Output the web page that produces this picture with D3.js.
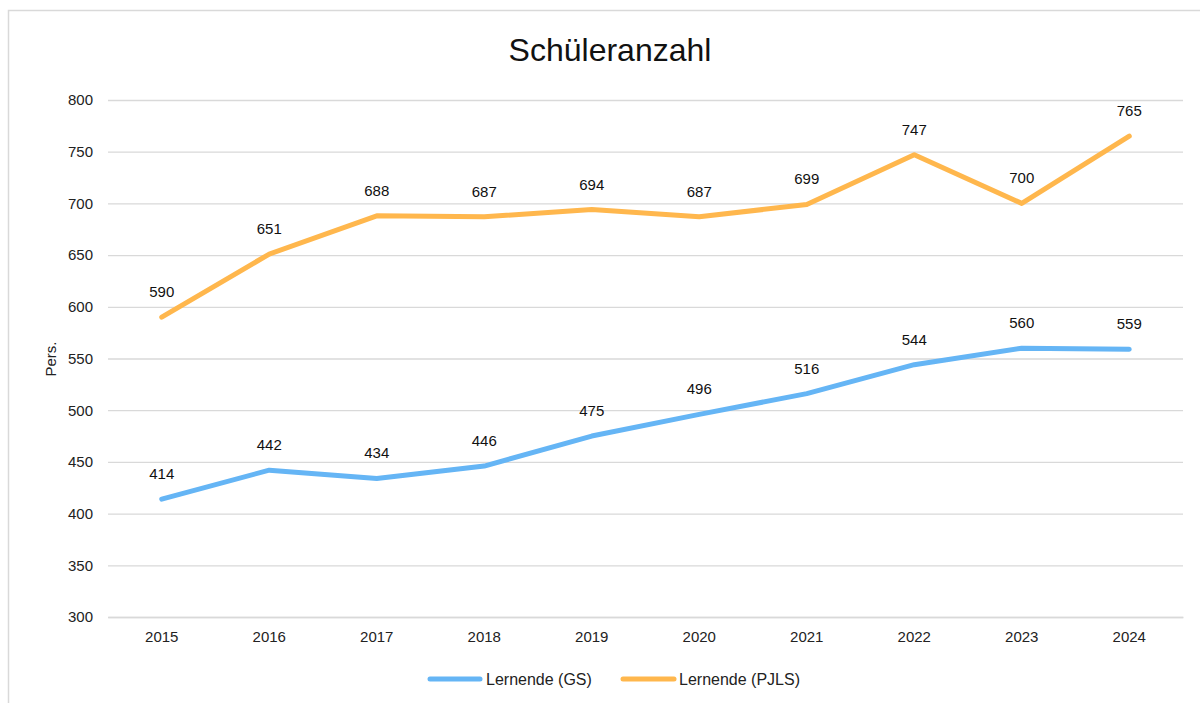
<!DOCTYPE html>
<html><head><meta charset="utf-8">
<script src="https://cdn.jsdelivr.net/npm/d3@7"></script>
<style>body{margin:0;background:#fff}svg{display:block}text{font-family:"Liberation Sans",Arial,sans-serif}</style>
</head><body>
<svg id="c" width="1200" height="703"></svg>
<script>
const years = ["2015","2016","2017","2018","2019","2020","2021","2022","2023","2024"];
const gs = [414,442,434,446,475,496,516,544,560,559];
const pjls = [590,651,688,687,694,687,699,747,700,765];
const yTicks = [300,350,400,450,500,550,600,650,700,750,800];
const seriesNames = ["Lernende (GS)","Lernende (PJLS)"];
const colors = ["#65B5F5","#FFB74D"];

const svg = d3.select("#c");
// frame
svg.append("path").attr("d","M8.5,703 L8.5,10.5 L1200,10.5").attr("fill","none").attr("stroke","#d9d9d9").attr("stroke-width",1.5);

const x = d3.scaleBand().domain(years).range([108,1183]);
const y = d3.scaleLinear().domain([300,800]).range([617,100]);

// gridlines
const gy = svg.append("g").attr("transform","translate(108,0)")
  .call(d3.axisLeft(y).tickValues(yTicks).tickSize(-1075).tickPadding(15).tickFormat(d3.format("d")));
gy.select(".domain").remove();
gy.selectAll(".tick line").attr("stroke","#d9d9d9").attr("stroke-width",1.3);
gy.selectAll(".tick text").attr("font-size",15).attr("fill","#222").attr("font-family","Liberation Sans, Arial, sans-serif");

const gx = svg.append("g").attr("transform","translate(0,617)")
  .call(d3.axisBottom(x).tickSize(0).tickPadding(14));
gx.select(".domain").attr("stroke","#d9d9d9").attr("stroke-width",1.3);
gx.selectAll(".tick text").attr("font-size",15).attr("fill","#222").attr("font-family","Liberation Sans, Arial, sans-serif");

// title
svg.append("text").attr("x",610).attr("y",61).attr("text-anchor","middle").attr("font-size",32).attr("fill","#111").text("Schüleranzahl");
// y label
svg.append("text").attr("transform","translate(56,359) rotate(-90)").attr("text-anchor","middle").attr("font-size",15).attr("fill","#222").text("Pers.");

const line = d3.line().x((d,i)=>x(years[i])+x.bandwidth()/2).y(d=>y(d));
[gs,pjls].forEach((s,k)=>{
  svg.append("path").datum(s).attr("d",line).attr("fill","none").attr("stroke",colors[k]).attr("stroke-width",5).attr("stroke-linecap","round").attr("stroke-linejoin","round");
  svg.append("g").selectAll("text").data(s).join("text")
    .attr("x",(d,i)=>x(years[i])+x.bandwidth()/2).attr("y",d=>y(d)-20)
    .attr("text-anchor","middle").attr("font-size",15).attr("fill","#111").text(d=>d);
});

// legend
const lg = [{x0:430,x1:480,tx:486},{x0:623,x1:674,tx:679}];
seriesNames.forEach((n,k)=>{
  svg.append("line").attr("x1",lg[k].x0).attr("x2",lg[k].x1).attr("y1",679).attr("y2",679).attr("stroke",colors[k]).attr("stroke-width",5).attr("stroke-linecap","round");
  svg.append("text").attr("x",lg[k].tx).attr("y",685).attr("font-size",16).attr("fill","#222").text(n);
});
</script>
</body></html>
